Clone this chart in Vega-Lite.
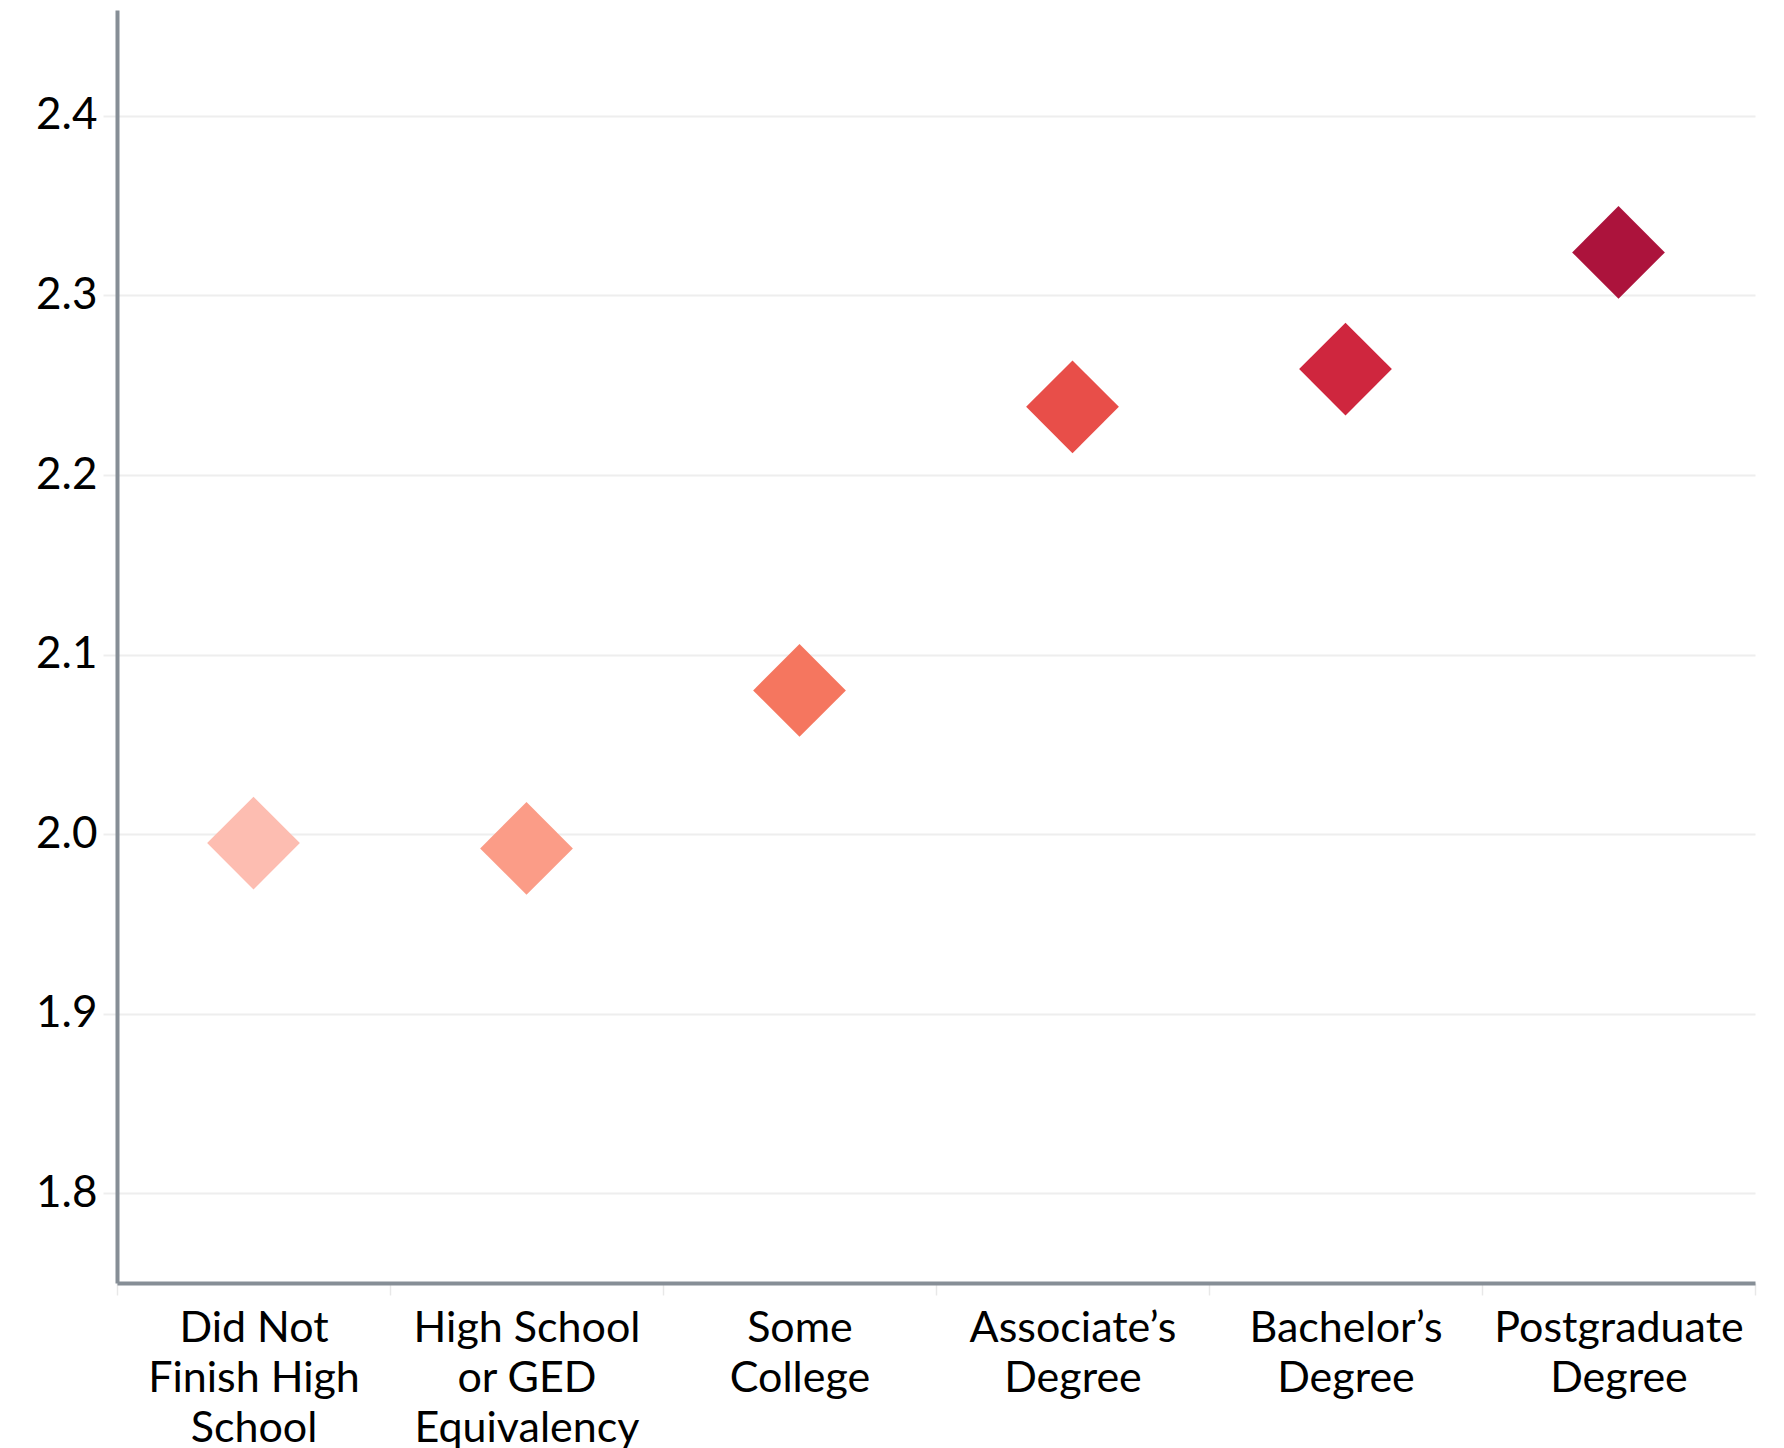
{
  "$schema": "https://vega.github.io/schema/vega-lite/v6.json",
  "autosize": {"type": "none"},
  "padding": {"left": 117, "top": 10, "right": 29, "bottom": 165},
  "width": 1638,
  "height": 1273,
  "background": "white",
  "config": {
    "view": {"stroke": null},
    "font": "Lato",
    "axis": {"labelFont": "Lato", "labelFontSize": 44, "labelColor": "#000000", "titleFont": "Lato"}
  },
  "data": {
    "values": [
      {"education": "Did Not Finish High School", "value": 1.995},
      {"education": "High School or GED Equivalency", "value": 1.992},
      {"education": "Some College", "value": 2.08},
      {"education": "Associate’s Degree", "value": 2.238},
      {"education": "Bachelor’s Degree", "value": 2.259},
      {"education": "Postgraduate Degree", "value": 2.324}
    ]
  },
  "mark": {"type": "point", "shape": "diamond", "filled": true, "size": 8600, "opacity": 1},
  "encoding": {
    "x": {
      "field": "education",
      "type": "nominal",
      "sort": null,
      "scale": {"paddingInner": 0, "paddingOuter": 0},
      "axis": {
        "title": null,
        "labelAngle": 0,
        "labelAlign": "center",
        "labelBaseline": "top",
        "labelFontSize": 43,
        "labelLineHeight": 50,
        "labelPadding": 12,
        "labelLimit": 400,
        "domainColor": "#868E96",
        "domainWidth": 4,
        "ticks": true,
        "tickBand": "extent",
        "tickColor": "#E8E8E8",
        "tickSize": 12,
        "tickWidth": 1.5,
        "grid": false,
        "labelExpr": "datum.value == 'Did Not Finish High School' ? ['Did Not', 'Finish High', 'School'] : datum.value == 'High School or GED Equivalency' ? ['High School', 'or GED', 'Equivalency'] : datum.value == 'Some College' ? ['Some', 'College'] : datum.value == 'Associate’s Degree' ? ['Associate’s', 'Degree'] : datum.value == 'Bachelor’s Degree' ? ['Bachelor’s', 'Degree'] : datum.value == 'Postgraduate Degree' ? ['Postgraduate', 'Degree'] : ''"
      }
    },
    "y": {
      "field": "value",
      "type": "quantitative",
      "scale": {"domain": [1.75, 2.459], "nice": false, "zero": false},
      "axis": {
        "title": null,
        "values": [1.8, 1.9, 2.0, 2.1, 2.2, 2.3, 2.4],
        "format": ".1f",
        "labelPadding": 6,
        "domainColor": "#868E96",
        "domainWidth": 4,
        "tickColor": "#EEEEEE",
        "tickSize": 14,
        "tickWidth": 2,
        "grid": true,
        "gridColor": "#EEEEEE",
        "gridWidth": 2
      }
    },
    "color": {
      "field": "education",
      "type": "nominal",
      "sort": null,
      "legend": null,
      "scale": {
        "domain": ["Did Not Finish High School", "High School or GED Equivalency", "Some College", "Associate’s Degree", "Bachelor’s Degree", "Postgraduate Degree"],
        "range": ["#FDBDB1", "#FB9C87", "#F5765F", "#E84E49", "#CF263E", "#AC133C"]
      }
    }
  }
}
